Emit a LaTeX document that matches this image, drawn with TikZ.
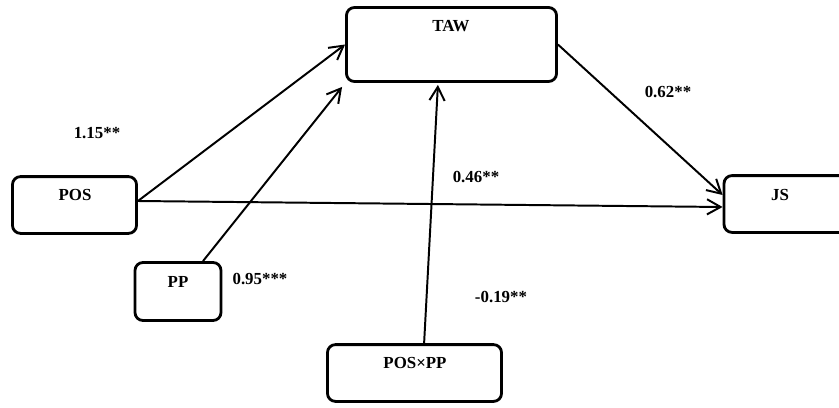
\documentclass[tikz,border=0pt]{standalone}
\usepackage{fontspec}
\setmainfont{Liberation Serif}
\usetikzlibrary{arrows.meta}

\begin{document}
\begin{tikzpicture}[x=0.025cm, y=-0.025cm, font=\fontsize{12}{14}\selectfont\bfseries]
\tikzstyle{var_box}=[rectangle, draw=black, line width=2pt, rounded corners=0.2cm, inner sep=0pt]
\tikzstyle{var_name}=[inner sep=0pt, anchor=center]
\tikzstyle{coef}=[inner sep=0pt, anchor=center]
\tikzstyle{path}=[-{Straight Barb[length=3.4mm, width=3.8mm]}, line width=1.4pt]
%
\useasboundingbox (0,0) rectangle (839,407);

% boxes
\node [var_box, minimum width=3.1cm, minimum height=1.42cm] (pos) at (74.5,205) {};
\node [var_box, minimum width=2.15cm, minimum height=1.45cm] (pp) at (178,291.5) {};
\node [var_box, minimum width=5.25cm, minimum height=1.85cm] (taw) at (451.5,44.5) {};
\node [var_box, minimum width=3.4cm, minimum height=1.42cm] (js) at (792,204) {};
\node [var_box, minimum width=4.35cm, minimum height=1.42cm] (posxpp) at (414.5,373) {};

\node [var_name] (pos_t) at (75,195) {POS};
\node [var_name] (pp_t) at (178,282) {PP};
\node [var_name] (taw_t) at (451,26) {TAW};
\node [var_name] (js_t) at (780,195) {JS};
\node [var_name] (posxpp_t) at (415,363) {POS×PP};

% paths
\draw [path] ([yshift=0.1cm]pos.east) -- (taw.west);
\draw [path] ([xshift=0.625cm]pp.north) -- ([xshift=-0.075cm, yshift=-0.1cm]taw.south west);
\draw [path] ([yshift=0.1cm]pos.east) -- ([yshift=-0.075cm]js.west);
\draw [path] ([xshift=0.24cm]posxpp.north) -- ([xshift=-0.34cm, yshift=-0.05cm]taw.south);
\draw [path] (taw.east) -- ([yshift=0.225cm]js.west);

% coefficients
\node [coef] (c_pos) at (97,133) {1.15**};
\node [coef] (c_pp) at (260,279) {0.95***};
\node [coef] (c_direct) at (476,177) {0.46**};
\node [coef] (c_inter) at (501,297) {-0.19**};
\node [coef] (c_taw) at (668,92) {0.62**};
%
\end{tikzpicture}
\end{document}
